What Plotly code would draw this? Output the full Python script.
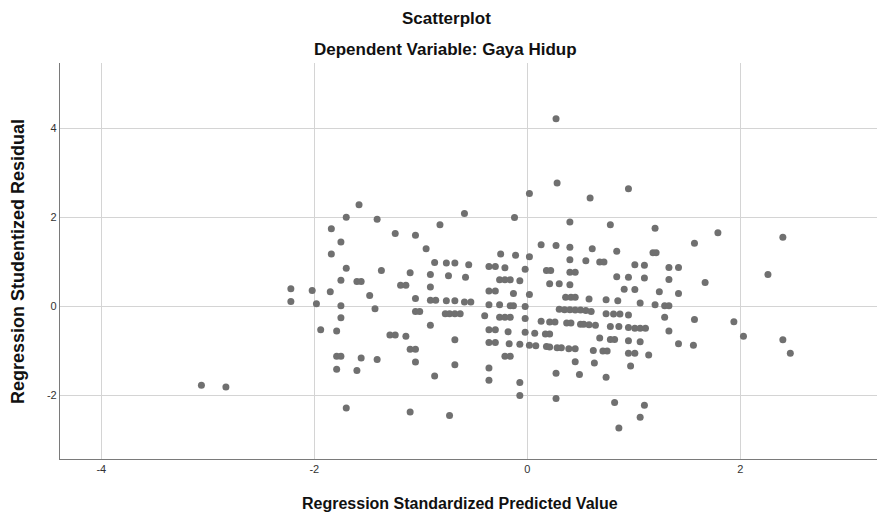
import plotly.graph_objects as go

title_main = "Scatterplot"
title_sub = "Dependent Variable: Gaya Hidup"
x_title = "Regression Standardized Predicted Value"
y_title = "Regression Studentized Residual"
x_ticks = [-4, -2, 0, 2]
y_ticks = [-2, 0, 2, 4]

pred = [
    -3.06, -2.83, 0.27, 0.28, 0.95,
    -1.58, -1.70, -1.41, -0.82, -1.84, -1.24, -1.05, -1.75, -0.95, -1.84,
    -0.87, -0.76, -1.70, -1.37, -1.10, -0.91, -0.74, -1.75, -1.60, -1.56,
    -1.19, -1.14, -0.91, -2.22, -2.02, -1.85, -1.48, -1.05, -0.91, -0.86,
    -0.76, -2.22, -1.98, -1.75, -1.43, -1.05, -1.01, -1.75,
    -0.91, -1.94, -1.79, -1.29, -1.24, -1.14, -1.10, -1.05, -1.79, -1.75,
    -1.56, -1.41, -1.05, -1.79, -1.60, -0.87, -1.70, -1.10, -0.73,
    0.02, 0.59, -0.59, -0.12, 0.40, 0.78, 0.13, 0.27, 0.40, 0.61, 0.84,
    -0.25, -0.11, 0.02, 0.40, 0.55, 0.68, 0.72, -0.68, -0.55, -0.36, -0.30,
    -0.21, -0.02, 0.18, 0.22, 0.40, 0.45, -0.58, 0.84, -0.26, -0.21, -0.16,
    -0.07, 0.21, 0.30, 0.40, -0.36, -0.30, -0.13, 0.02, 0.36, 0.41, 0.45,
    0.58, 0.74, 0.85, -0.68, -0.59, -0.53, -0.36, -0.26, -0.16, -0.13, -0.02,
    -0.77, -0.73, -0.68, -0.63, -0.40, -0.26, -0.21, -0.16, -0.02, 0.30,
    0.35, 0.40, 0.45, 0.50, 0.55, 0.60, 0.74, 0.81, 0.87, 0.95,
    0.13, 0.21, 0.26, 0.37, 0.41, 0.50, 0.53, 0.58, 0.64, 0.78, -0.36,
    -0.30, -0.18, -0.02, 0.07, 0.17, 0.21, 0.68, 0.78, 0.82, -0.68, -0.36,
    -0.30, -0.17, -0.07, 0.02, 0.08, 0.18, 0.21, 0.28, 0.32, 0.39, 0.45,
    0.62, 0.71, 0.75, -0.21, -0.16, 0.45, 0.63, -0.68, -0.36, 0.27, 0.49,
    0.74, -0.36, -0.07, -0.07, 0.27, 0.82, 0.86,
    1.20, 1.79, 1.57, 2.40, 1.18, 1.21, 1.01, 1.10, 1.33, 1.42, 0.95, 1.10,
    1.33, 2.26, 1.67, 0.91, 1.01, 1.24, 1.42, 1.06, 1.20, 1.29, 1.33, 1.29,
    1.57, 1.94,
    0.86, 0.95, 1.01, 1.06, 1.11, 1.33, 2.03, 2.40, 2.47, 0.95, 1.06, 1.42,
    1.56, 0.95, 1.01, 1.14, 0.97, 1.10, 1.06,
]

resid = [
    -1.77, -1.81, 4.22, 2.78, 2.65,
    2.29, 2.01, 1.96, 1.84, 1.75, 1.64, 1.60, 1.45, 1.30, 1.18,
    0.99, 0.98, 0.86, 0.81, 0.76, 0.72, 0.69, 0.59, 0.56, 0.56,
    0.48, 0.48, 0.44, 0.40, 0.36, 0.33, 0.25, 0.18, 0.14, 0.14,
    0.13, 0.11, 0.06, 0.02, -0.05, -0.11, -0.11, -0.25,
    -0.42, -0.52, -0.55, -0.64, -0.64, -0.67, -0.96, -0.96, -1.12, -1.12,
    -1.16, -1.19, -1.25, -1.41, -1.44, -1.56, -2.28, -2.37, -2.45,
    2.54, 2.44, 2.09, 2.00, 1.90, 1.84, 1.39, 1.37, 1.33, 1.30, 1.24,
    1.18, 1.15, 1.12, 1.05, 1.03, 1.00, 1.00, 0.98, 0.94, 0.90, 0.90,
    0.87, 0.84, 0.81, 0.81, 0.77, 0.77, 0.66, 0.67, 0.60, 0.60, 0.60,
    0.58, 0.51, 0.51, 0.49, 0.35, 0.35, 0.29, 0.27, 0.21, 0.21, 0.21,
    0.17, 0.15, 0.13, 0.13, 0.10, 0.10, 0.04, 0.04, 0.02, 0.02, 0.00,
    -0.16, -0.16, -0.16, -0.16, -0.21, -0.24, -0.24, -0.24, -0.27, -0.06,
    -0.07, -0.07, -0.08, -0.08, -0.09, -0.11, -0.16, -0.17, -0.17, -0.19,
    -0.33, -0.35, -0.35, -0.37, -0.37, -0.40, -0.40, -0.41, -0.42, -0.45, -0.52,
    -0.52, -0.57, -0.58, -0.60, -0.62, -0.62, -0.71, -0.74, -0.74, -0.75, -0.81,
    -0.81, -0.84, -0.85, -0.87, -0.88, -0.90, -0.91, -0.93, -0.93, -0.95, -0.95,
    -0.99, -1.00, -1.00, -1.12, -1.12, -1.24, -1.27, -1.31, -1.38, -1.50, -1.53,
    -1.59, -1.66, -1.71, -2.00, -2.07, -2.16, -2.73,
    1.76, 1.66, 1.42, 1.56, 1.21, 1.21, 0.94, 0.93, 0.88, 0.88, 0.66, 0.64,
    0.61, 0.72, 0.54, 0.39, 0.38, 0.33, 0.29, 0.08, 0.04, 0.02, 0.02, -0.24,
    -0.29, -0.34,
    -0.45, -0.47, -0.49, -0.49, -0.49, -0.55, -0.67, -0.75, -1.05, -0.77, -0.79, -0.84,
    -0.87, -1.05, -1.05, -1.09, -1.34, -2.22, -2.49,
]

font_family = "Liberation Sans, Arial, sans-serif"

W, H = 877, 515
L, R, T, B = 60, 0, 63, 56
w_plot = W - L - R
h_plot = H - T - B


def px_x(px):
    return (px - L) / w_plot


def px_y(py):
    return (H - B - py) / h_plot


fig = go.Figure()
fig.add_trace(go.Scatter(
    x=pred, y=resid, mode="markers",
    marker=dict(size=7, color="#707070", line=dict(width=0)),
    hoverinfo="x+y", showlegend=False,
))

axis_common = dict(
    showgrid=True, gridcolor="#d4d4d4", gridwidth=1.2, zeroline=False,
    showline=True, linecolor="#7a7a7a", linewidth=1.2, mirror=False,
    ticks="", ticklen=0, tickfont=dict(size=11, color="#333333"),
)

fig.update_layout(
    width=W, height=H,
    margin=dict(l=L, r=R, t=T, b=B),
    paper_bgcolor="white", plot_bgcolor="white",
    font=dict(family=font_family, color="#222222"),
    xaxis=dict(range=[-4.388, 3.284], tickvals=x_ticks,
               ticktext=[str(v) for v in x_ticks], **axis_common),
    yaxis=dict(range=[-3.429, 5.476], tickvals=y_ticks,
               ticktext=[str(v) for v in y_ticks], **axis_common),
    annotations=[
        dict(text="<b>" + title_main + "</b>", xref="paper", yref="paper",
             x=px_x(446), y=px_y(19), xanchor="center", yanchor="middle",
             showarrow=False, font=dict(size=17, color="#111111")),
        dict(text="<b>" + title_sub + "</b>", xref="paper", yref="paper",
             x=px_x(445), y=px_y(50), xanchor="center", yanchor="middle",
             showarrow=False, font=dict(size=17, color="#111111")),
        dict(text="<b>" + x_title + "</b>", xref="paper", yref="paper",
             x=px_x(460), y=px_y(503), xanchor="center", yanchor="middle",
             showarrow=False, font=dict(size=16, color="#111111")),
        dict(text="<b>" + y_title + "</b>", xref="paper", yref="paper",
             x=px_x(18), y=px_y(262), xanchor="center", yanchor="middle",
             textangle=-90, showarrow=False, font=dict(size=18, color="#111111")),
    ],
)

fig.write_html("out.html")
